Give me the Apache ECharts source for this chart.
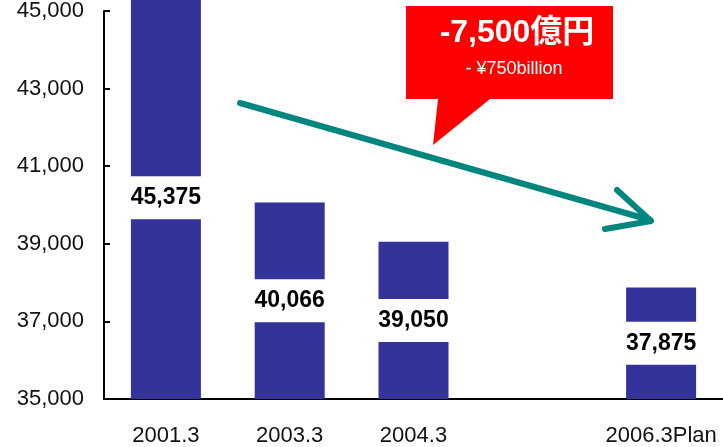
<!DOCTYPE html>
<html><head><meta charset="utf-8">
<script src="https://cdn.jsdelivr.net/npm/echarts@6/dist/echarts.min.js"></script>
<style>html,body{margin:0;padding:0;background:#fff}#c{width:723px;height:447px}</style>
</head><body><div id="c"></div>
<script>
const categories = ['2001.3', '2003.3', '2004.3', '', '2006.3Plan'];
const values = [45375, 40066, 39050, null, 37875];
const yMin = 35000, yMax = 45000, yStep = 2000;
const calloutMain = '-7,500億円';
const calloutSub = '- ¥750billion';

const chart = echarts.init(document.getElementById('c'), null, {renderer: 'canvas'});
const fmt = v => v.toLocaleString('en-US');
const baseData = values.map(v => v == null ? null : yMin);
const restData = values.map(v => v == null ? null : v - yMin);
chart.setOption({
  animation: false,
  backgroundColor: '#fff',
  grid: {left: 104, right: -3, top: 11, bottom: 48, containLabel: false},
  xAxis: {
    type: 'category', data: categories,
    axisLine: {lineStyle: {color: '#000', width: 2}},
    axisTick: {show: false},
    axisLabel: {interval: 0, color: '#111', fontSize: 22, fontFamily: 'Liberation Sans, Arial', margin: 26}
  },
  yAxis: {
    type: 'value', min: yMin, max: yMax, interval: yStep,
    axisLine: {show: true, lineStyle: {color: '#000', width: 2}},
    axisTick: {show: true, inside: true, length: 6, lineStyle: {color: '#000', width: 2}},
    splitLine: {show: false},
    axisLabel: {color: '#111', fontSize: 22, fontFamily: 'Liberation Sans, Arial', margin: 20, formatter: fmt}
  },
  series: [{
    type: 'bar', data: baseData, stack: 's', barWidth: 70, z: 1,
    itemStyle: {color: 'rgba(0,0,0,0)'}, silent: true
  }, {
    type: 'bar', data: restData, stack: 's', barWidth: 70, clip: false, z: 2,
    itemStyle: {color: '#333399'},
    label: {
      show: true, position: 'inside',
      formatter: p => fmt(values[p.dataIndex]),
      color: '#000', fontWeight: 'bold', fontSize: 23,
      fontFamily: 'Liberation Sans, Arial',
      backgroundColor: '#fff', padding: [10, 4], lineHeight: 23
    }
  }],
  graphic: [
    {type: 'polygon', shape: {points: [[406, 6], [613, 6], [613, 99], [490, 99], [433, 145], [438, 99], [406, 99]]},
     style: {fill: '#ff0000'}},
    {type: 'text', x: 517, y: 33, style: {text: calloutMain, fill: '#fff', font: 'bold 32px "Liberation Sans", "Noto Sans CJK JP", sans-serif', align: 'center', verticalAlign: 'middle'}},
    {type: 'text', x: 514, y: 69, style: {text: calloutSub, fill: '#fff', font: '18px "Liberation Sans", sans-serif', align: 'center', verticalAlign: 'middle'}},
    {type: 'polyline', shape: {points: [[240, 103], [650, 220]]}, style: {stroke: '#00857f', lineWidth: 6, lineCap: 'round'}},
    {type: 'polyline', shape: {points: [[617, 190], [651, 221], [605, 229]]}, style: {stroke: '#00857f', lineWidth: 6, lineCap: 'round', lineJoin: 'round', fill: null}}
  ]
});
</script></body></html>
